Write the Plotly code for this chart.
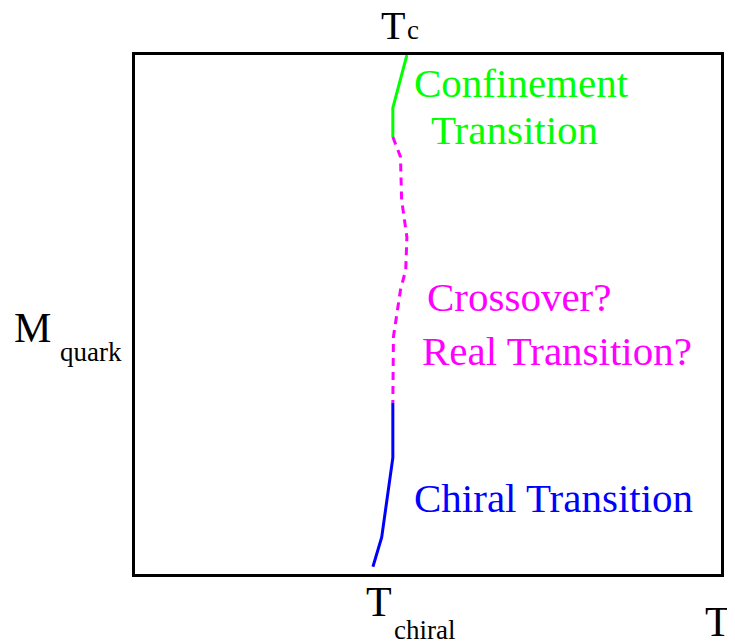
import plotly.graph_objects as go

# phase diagram sketch: T (x) vs quark mass (y), both on a 0-100 scale
confine_T = [46.4, 44.0, 44.0]
confine_M = [100.0, 89.8, 84.2]

cross_T = [44.0, 45.3, 45.5, 46.4, 46.2, 45.3, 44.1, 44.0]
cross_M = [84.2, 80.4, 72.1, 64.9, 58.6, 54.7, 45.7, 33.0]

chiral_T = [44.0, 44.0, 42.1, 40.6]
chiral_M = [33.0, 22.4, 7.1, 1.4]

SERIF = "Liberation Serif, Times New Roman, serif"

fig = go.Figure()

fig.add_trace(go.Scatter(x=confine_T, y=confine_M, mode="lines",
                         line=dict(color="#00ff00", width=3)))
fig.add_trace(go.Scatter(x=cross_T, y=cross_M, mode="lines",
                         line=dict(color="#ff00ff", width=3, dash="8px,6px")))
fig.add_trace(go.Scatter(x=chiral_T, y=chiral_M, mode="lines",
                         line=dict(color="#0000ff", width=3)))


# positions below are measured in window pixels; convert to paper coords
def px(x):
    return (x - 135) / 589.0


def py(y):
    return (574 - y) / 519.0


def label(text, x, y, size, color="black", anchor="left"):
    fig.add_annotation(text=text, x=px(x), y=py(y), xref="paper", yref="paper",
                       xanchor=anchor, yanchor="middle", showarrow=False,
                       font=dict(family=SERIF, size=size, color=color))


label("Confinement", 413, 83, 41, "#00ff00")
label("Transition", 431, 130, 41, "#00ff00")
label("Crossover?", 426, 297, 41, "#ff00ff")
label("Real Transition?", 421, 351, 41, "#ff00ff")
label("Chiral Transition", 413, 498, 41, "#0000ff")

label("T", 380, 26, 40)
label("c", 406, 30, 27)
label("M", 11, 328, 42)
label("quark", 58, 352, 27)
label("T", 365, 602, 42)
label("chiral", 393, 630, 27)
label("T", 706, 622, 42)

fig.update_layout(
    width=727, height=636,
    margin=dict(l=127, r=11, t=47, b=70),
    plot_bgcolor="white", paper_bgcolor="white",
    showlegend=False,
    xaxis=dict(range=[0, 100], showgrid=False, zeroline=False, showticklabels=False,
               ticks="", showline=True, mirror=True, linecolor="black", linewidth=3),
    yaxis=dict(range=[0, 100], showgrid=False, zeroline=False, showticklabels=False,
               ticks="", showline=True, mirror=True, linecolor="black", linewidth=3),
)

fig.write_html("out.html")
